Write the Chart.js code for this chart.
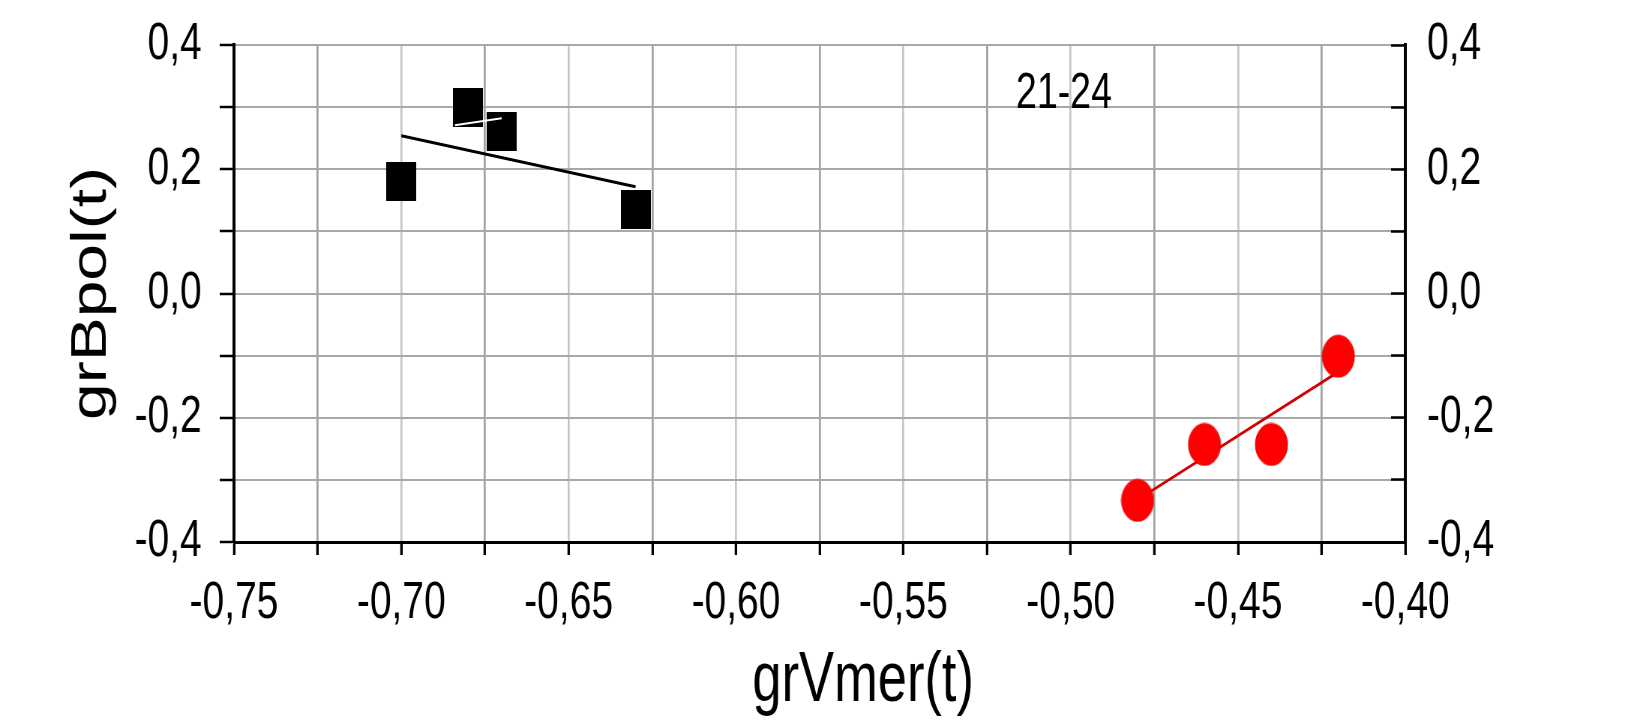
<!DOCTYPE html>
<html><head><meta charset="utf-8">
<script src="https://cdn.jsdelivr.net/npm/chart.js@4.4.1/dist/chart.umd.min.js"></script>
<style>
html,body{margin:0;padding:0;background:#fff;overflow:hidden}
#c{display:block;width:1625px !important;height:721px !important}
</style>
</head><body><canvas id="c" width="2167" height="721"></canvas>
<script>
// ---- data ----
const blackX = [-0.70, -0.68, -0.67, -0.63];
const blackY = [0.18, 0.30, 0.26, 0.135];
const redX = [-0.48, -0.46, -0.44, -0.42];
const redY = [-0.333, -0.243, -0.243, -0.101];
const blackFitX = [-0.70, -0.63];
const blackFitY = [0.254, 0.172];
const redFitX = [-0.48, -0.42];
const redFitY = [-0.332, -0.126];
const whiteMarkX = [-0.684, -0.670];
const whiteMarkY = [0.271, 0.282];
const xTickValues = [-0.75, -0.725, -0.70, -0.675, -0.65, -0.625, -0.60, -0.575, -0.55, -0.525, -0.50, -0.475, -0.45, -0.425, -0.40];
const xTickLabels = ['-0,75', '-0,70', '-0,65', '-0,60', '-0,55', '-0,50', '-0,45', '-0,40'];
const yTickValues = [-0.4, -0.3, -0.2, -0.1, 0, 0.1, 0.2, 0.3, 0.4];
const yTickLabels = ['-0,4', '-0,2', '0,0', '0,2', '0,4'];
const noteText = '21-24';
const noteX = -0.502;
const noteY = 0.32;
const xTitle = 'grVmer(t)';
const yTitle = 'grBpol(t)';

// The original figure is horizontally condensed: the canvas is drawn wider
// and displayed at 1625px (CSS), which condenses text and marks alike.
const pairs = (xs, ys) => xs.map((v, i) => ({x: v, y: ys[i]}));
const FONT = "'Liberation Sans', Arial, sans-serif";

function rectMarker(w, h, color) {
  const c = document.createElement('canvas');
  c.width = w; c.height = h;
  const g = c.getContext('2d');
  g.fillStyle = color; g.fillRect(0, 0, w, h);
  return c;
}
function ellipseMarker(w, h, color, edge) {
  const c = document.createElement('canvas');
  c.width = w + 2; c.height = h + 2;
  const g = c.getContext('2d');
  g.beginPath();
  g.ellipse((w + 2) / 2, (h + 2) / 2, w / 2, h / 2, 0, 0, Math.PI * 2);
  g.fillStyle = color; g.fill();
  g.lineWidth = 1; g.strokeStyle = edge; g.stroke();
  return c;
}

const textPlugin = {
  id: 'texts',
  afterDatasetsDraw(chart) {
    const {ctx, scales: {x, y}} = chart;
    ctx.save();
    ctx.fillStyle = '#000';
    ctx.textAlign = 'center';
    ctx.textBaseline = 'middle';
    ctx.font = '50px ' + FONT;
    ctx.fillText(noteText, x.getPixelForValue(noteX), y.getPixelForValue(noteY));
    // x-axis title (sits a little right of the axis centre in the original)
    ctx.textBaseline = 'alphabetic';
    ctx.font = '70px ' + FONT;
    ctx.fillText(xTitle, (x.left + x.right) / 2 + 58, x.bottom - 20);
    ctx.restore();
  }
};
const noPad = s => { s.paddingTop = 0; s.paddingBottom = 0; s.paddingLeft = 0; s.paddingRight = 0; };

new Chart(document.getElementById('c'), {
  type: 'scatter',
  data: {
    datasets: [
      {data: pairs(whiteMarkX, whiteMarkY), showLine: true, borderColor: '#ffffff', borderWidth: 2, pointRadius: 0},
      {data: pairs(blackX, blackY), showLine: false, pointStyle: rectMarker(40, 39, '#000000'), pointRadius: 18},
      {data: pairs(redX, redY), showLine: false, pointStyle: ellipseMarker(43, 42, '#ff0000', '#e00000'), pointRadius: 20},
      {data: pairs(blackFitX, blackFitY), showLine: true, borderColor: '#000000', borderWidth: 3, pointRadius: 0},
      {data: pairs(redFitX, redFitY), showLine: true, borderColor: '#d20000', borderWidth: 3, pointRadius: 0}
    ]
  },
  options: {
    responsive: false,
    devicePixelRatio: 1,
    animation: false,
    layout: {padding: {top: 45, left: 0, right: 0, bottom: 0}},
    plugins: {legend: {display: false}, tooltip: {enabled: false}},
    scales: {
      x: {
        type: 'linear', position: 'bottom', min: -0.75, max: -0.40,
        afterBuildTicks: s => { s.ticks = xTickValues.map(v => ({value: v})); },
        afterFit: s => { s.height = 179; noPad(s); },
        ticks: {autoSkip: false, maxRotation: 0, minRotation: 0, padding: 17, color: '#000',
          font: {family: FONT, size: 52},
          callback: (v, i) => (i % 2 === 0 ? xTickLabels[i / 2] : '')},
        grid: {color: c => (c.index % 2 === 0 ? '#c6c6c6' : '#a0a0a0'), lineWidth: 2.7,
          tickColor: '#000', tickWidth: 3.3, tickLength: 13},
        border: {color: '#000', width: 3},
        title: {display: false, text: xTitle}
      },
      y: {
        type: 'linear', position: 'left', min: -0.4, max: 0.4,
        afterBuildTicks: s => { s.ticks = yTickValues.map(v => ({value: v})); },
        afterFit: s => { s.width = 312; noPad(s); },
        ticks: {autoSkip: false, padding: 24, color: '#000', font: {family: FONT, size: 52},
          callback: (v, i) => (i % 2 === 0 ? yTickLabels[i / 2] : '')},
        grid: {color: '#a8a8a8', lineWidth: 2, tickColor: '#000', tickWidth: 2.5, tickLength: 19},
        border: {color: '#000', width: 4},
        title: {display: true, text: yTitle, color: '#000', font: {family: FONT, size: 66, lineHeight: 1.2},
          padding: {top: 83, bottom: 0}}
      },
      y2: {
        type: 'linear', position: 'right', min: -0.4, max: 0.4,
        afterBuildTicks: s => { s.ticks = yTickValues.map(v => ({value: v})); },
        afterFit: s => { s.width = 293; noPad(s); },
        ticks: {autoSkip: false, padding: 48, color: '#000', font: {family: FONT, size: 52},
          callback: (v, i) => (i % 2 === 0 ? yTickLabels[i / 2] : '')},
        grid: {drawOnChartArea: false, tickColor: '#000', tickWidth: 2.5, tickLength: -19},
        border: {color: '#000', width: 4}
      }
    }
  },
  plugins: [textPlugin]
});
</script>
</body></html>
